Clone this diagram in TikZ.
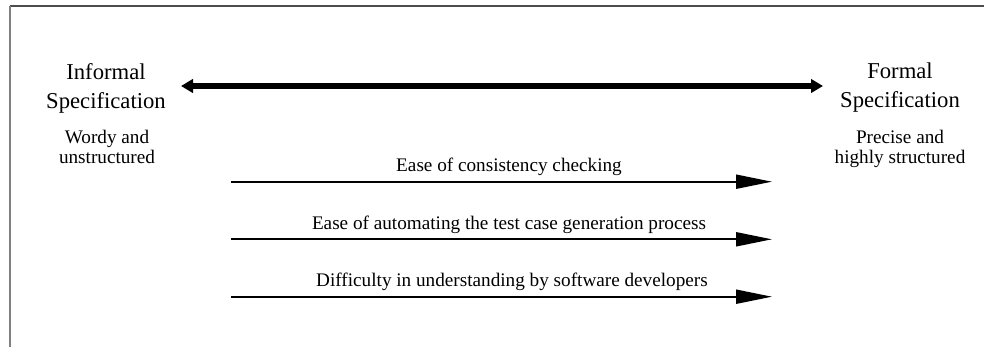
\documentclass[tikz,border=0pt]{standalone}
\usepackage{fontspec}
\setmainfont{Liberation Serif}
\usetikzlibrary{arrows.meta}
\begin{document}
\begin{tikzpicture}[x=0.75pt,y=-0.75pt,
  heading/.style={align=center,inner sep=0pt,anchor=north,
    font=\fontsize{17}{21.75}\selectfont},
  remark/.style={align=center,inner sep=0pt,anchor=north,
    font=\fontsize{14.4}{15}\selectfont},
  caption/.style={inner sep=0pt,anchor=base,font=\fontsize{14.4}{15}\selectfont},
  spectrum/.style={line width=4.5pt,{Triangle[length=9pt,width=10pt]}-{Triangle[length=9pt,width=10pt]}},
  trend/.style={line width=1.5pt,-{Triangle[length=27pt,width=10.5pt]}},
  frameline/.style={line width=1.5pt}]
  \useasboundingbox (0,0) rectangle (984,347);
  % partial frame: top and left edges
  \draw[frameline,black!70] (9.5,5.5) -- (984,5.5);
  \draw[frameline,black!50] (9.5,5.5) -- (9.5,347);

  % the two ends of the spectrum
  \node[heading] (informal) at (106,63) {Informal\\Specification};
  \node[heading] (formal) at (900,63) {Formal\\Specification};
  \node[remark] (wordy) at (107,129.5) {Wordy and\\unstructured};
  \node[remark] (precise) at (900,129.5) {Precise and\\highly structured};

  % double-headed spectrum arrow
  \coordinate (sL) at (181,86);
  \coordinate (sR) at (823,86);
  \draw[spectrum] (sL) -- (sR);

  % trend arrows with their captions
  \coordinate (a1) at (231,181.7);  \coordinate (b1) at (772,181.7);
  \coordinate (a2) at (231,239.3);  \coordinate (b2) at (772,239.3);
  \coordinate (a3) at (231,296.7);  \coordinate (b3) at (772,296.7);
  \node[caption] (c1) at (509,171.7) {Ease of consistency checking};
  \node[caption] (c2) at (509,229.3) {Ease of automating the test case generation process};
  \node[caption] (c3) at (512,286.7) {Difficulty in understanding by software developers};
  \draw[trend] (a1) -- (b1);
  \draw[trend] (a2) -- (b2);
  \draw[trend] (a3) -- (b3);
\end{tikzpicture}
\end{document}
